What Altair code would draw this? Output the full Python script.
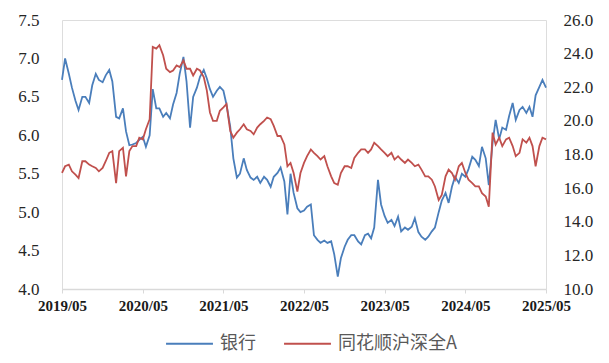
import altair as alt
import pandas as pd

# half-monthly observations, 2019-05-01 .. 2025-05-01
start_date = "2019-05-01"
end_date = "2025-05-01"

bank = [6.72, 7.0, 6.8, 6.62, 6.45, 6.33, 6.5, 6.5, 6.42, 6.65,
        6.8, 6.72, 6.69, 6.78, 6.85, 6.7, 6.24, 6.22, 6.35, 6.05,
        5.87, 5.88, 5.9, 5.94, 5.98, 5.85, 6.0, 6.6, 6.35, 6.35,
        6.24, 6.29, 6.22, 6.4, 6.55, 6.8, 7.02, 6.7, 6.1, 6.5,
        6.62, 6.76, 6.85, 6.74, 6.6, 6.5, 6.58, 6.63, 6.58, 6.4,
        6.11, 5.7, 5.45, 5.5, 5.7, 5.55, 5.45, 5.42, 5.46, 5.38,
        5.46, 5.42, 5.33, 5.46, 5.51, 5.58, 5.4, 4.97, 5.5, 5.25,
        5.05, 5.0, 5.02, 5.07, 5.1, 4.7, 4.64, 4.6, 4.63, 4.6,
        4.62, 4.45, 4.16, 4.4, 4.55, 4.64, 4.7, 4.7, 4.62, 4.58,
        4.7, 4.72, 4.66, 4.8, 5.42, 5.1, 4.95, 4.86, 4.9, 4.82,
        4.94, 4.75, 4.8, 4.77, 4.81, 4.92, 4.74, 4.68, 4.64, 4.68,
        4.75, 4.8, 5.0, 5.15, 5.25, 5.12, 5.33, 5.46, 5.38, 5.5,
        5.46, 5.56, 5.72, 5.68, 5.6, 5.85, 5.7, 5.35, 5.9, 6.2,
        5.95, 6.1, 6.07, 6.25, 6.42, 6.2, 6.33, 6.37, 6.29, 6.37,
        6.24, 6.52, 6.63, 6.72, 6.62]

allA = [16.9, 17.3, 17.4, 17.0, 16.8, 16.6, 17.6, 17.6, 17.4, 17.3,
        17.2, 17.0, 17.2, 17.6, 18.1, 18.2, 16.3, 18.2, 18.4, 16.7,
        18.2, 18.5, 18.5, 19.0, 18.9, 19.5, 20.1, 24.4, 24.3, 24.5,
        23.9, 23.1, 22.9, 23.0, 23.3, 23.2, 23.6, 23.1, 23.1, 22.7,
        23.1, 23.0, 22.6, 21.8, 20.5, 20.0, 20.0, 20.6, 20.8, 21.0,
        19.4, 19.0, 19.3, 19.5, 19.8, 19.5, 19.4, 19.2, 19.6, 19.8,
        20.0, 20.2, 20.1, 19.7, 19.1, 19.1, 18.6, 17.3, 17.5, 16.9,
        15.8, 16.9, 17.5, 17.9, 18.3, 18.1, 17.9, 17.7, 17.9, 17.3,
        16.7, 16.3, 16.2, 16.9, 17.3, 17.3, 17.2, 17.8, 18.1, 18.3,
        18.3, 18.1, 18.3, 18.7, 18.5, 18.3, 18.1, 17.9, 18.1, 17.7,
        17.9, 17.7, 17.5, 17.7, 17.5, 17.3, 17.4, 17.1, 16.7, 16.7,
        16.5, 16.1, 15.3, 15.6, 16.7, 17.1, 16.9, 16.5, 17.3, 17.5,
        16.9, 16.5, 16.3, 16.1, 16.1, 15.7, 15.5, 14.9, 19.3, 18.6,
        19.0, 18.5, 18.9, 19.0, 18.5, 17.9, 18.1, 18.9, 18.7, 19.0,
        18.5, 17.3, 18.5, 19.0, 18.9]

series_names = ["银行", "同花顺沪深全A"]
series_colors = ["#4a7ebb", "#c0504d"]
tick_years = [2019, 2020, 2021, 2022, 2023, 2024, 2025]

dates = pd.date_range(start_date, end_date, freq="SMS")
n = min(len(dates), len(bank), len(allA))
df = pd.concat([
    pd.DataFrame({"date": dates[:n], "value": bank[:n], "series": series_names[0]}),
    pd.DataFrame({"date": dates[:n], "value": allA[:n], "series": series_names[1]}),
])

tick_vals = [alt.DateTime(year=y, month=5, date=1) for y in tick_years]

x_enc = alt.X(
    "date:T",
    scale=alt.Scale(domain=[alt.DateTime(year=2019, month=5, date=1),
                            alt.DateTime(year=2025, month=5, date=1)]),
    axis=alt.Axis(values=tick_vals, format="%Y/%m", title=None, grid=False,
                  labelFont="Liberation Serif", labelFontWeight="bold",
                  labelFontSize=15, labelColor="#1a1a1a", labelPadding=5,
                  tickSize=4, tickColor="#d9d9d9", domainColor="#d9d9d9",
                  domainWidth=1.5, labelFlush=False),
)

color_enc = alt.Color(
    "series:N",
    scale=alt.Scale(domain=series_names, range=series_colors),
    legend=alt.Legend(orient="none", legendX=103, legendY=299,
                      direction="horizontal", title=None,
                      symbolType="stroke", symbolSize=2200,
                      symbolStrokeWidth=2, labelFontSize=18,
                      labelFont="Noto Sans CJK SC", labelColor="#595959",
                      columnPadding=24, labelOffset=6, padding=0),
)

base = alt.Chart(df)

left = base.transform_filter(alt.datum.series == series_names[0]).mark_line(
    strokeWidth=1.8).encode(
    x=x_enc,
    y=alt.Y("value:Q", scale=alt.Scale(domain=[4.0, 7.5], nice=False, zero=False),
            axis=alt.Axis(orient="left", values=[4.0, 4.5, 5.0, 5.5, 6.0, 6.5, 7.0, 7.5],
                          format=".1f", title=None, grid=False, ticks=False,
                          domain=False, labelFont="Liberation Serif",
                          labelFontSize=17, labelColor="#262626", labelPadding=23)),
    color=color_enc,
)

right = base.transform_filter(alt.datum.series == series_names[1]).mark_line(
    strokeWidth=1.8).encode(
    x=x_enc,
    y=alt.Y("value:Q", scale=alt.Scale(domain=[10.0, 26.0], nice=False, zero=False),
            axis=alt.Axis(orient="right", values=[10, 12, 14, 16, 18, 20, 22, 24, 26],
                          format=".1f", title=None, grid=False, ticks=False,
                          domain=False, labelFont="Liberation Serif",
                          labelFontSize=17, labelColor="#262626", labelPadding=17)),
    color=color_enc,
)

chart = alt.layer(left, right).resolve_scale(y="independent").properties(
    width=484, height=269,
    autosize=alt.AutoSizeParams(type="none"),
    padding={"left": 54, "top": 12, "right": 50, "bottom": 66},
).configure_view(stroke=None).configure(background="white")

chart.save("out.html", embed_options={"renderer": "svg", "actions": False})
